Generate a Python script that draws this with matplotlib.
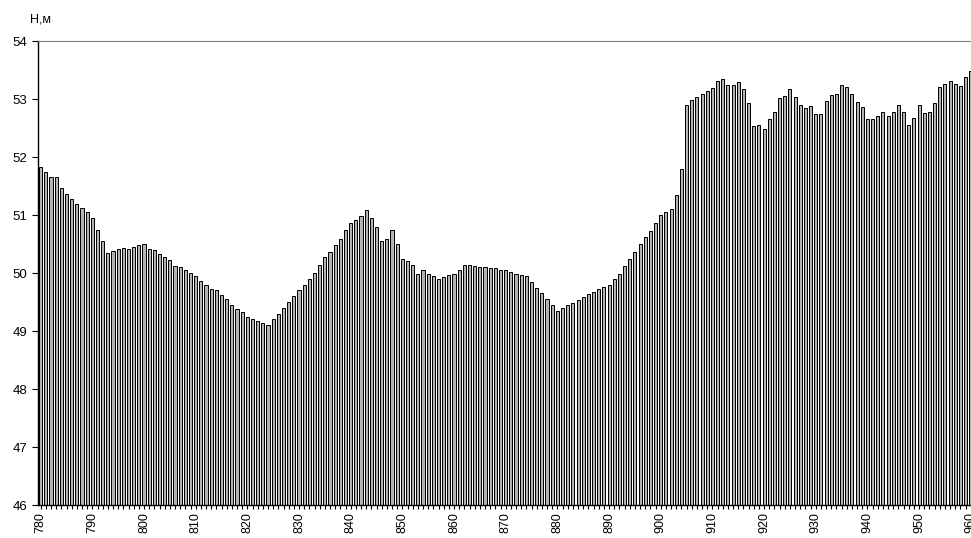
import numpy as np
import matplotlib
matplotlib.use("Agg")
import matplotlib.pyplot as plt

plt.rcParams['font.family'] = ['Liberation Sans', 'DejaVu Sans']

# Picket positions (m) and levels H (m)
km = np.arange(780, 961)
h = [
    51.83, 51.75, 51.66, 51.66, 51.46, 51.36, 51.28, 51.19, 51.12, 51.05,   # 780
    50.95, 50.75, 50.55, 50.35, 50.38, 50.41, 50.43, 50.41, 50.44, 50.48,   # 790
    50.50, 50.41, 50.40, 50.32, 50.28, 50.22, 50.12, 50.10, 50.05, 50.00,   # 800
    49.95, 49.87, 49.80, 49.72, 49.70, 49.62, 49.55, 49.45, 49.38, 49.32,   # 810
    49.25, 49.21, 49.17, 49.14, 49.10, 49.20, 49.30, 49.40, 49.50, 49.60,   # 820
    49.70, 49.80, 49.90, 50.00, 50.13, 50.28, 50.37, 50.49, 50.59, 50.74,   # 830
    50.86, 50.91, 50.99, 51.09, 50.95, 50.79, 50.55, 50.59, 50.75, 50.50,   # 840
    50.25, 50.20, 50.13, 49.99, 50.05, 49.99, 49.95, 49.90, 49.93, 49.96,   # 850
    49.99, 50.06, 50.14, 50.13, 50.12, 50.11, 50.10, 50.09, 50.08, 50.06,   # 860
    50.05, 50.02, 49.99, 49.97, 49.94, 49.84, 49.75, 49.65, 49.55, 49.45,   # 870
    49.34, 49.40, 49.44, 49.49, 49.53, 49.58, 49.63, 49.68, 49.72, 49.76,   # 880
    49.80, 49.90, 49.99, 50.12, 50.25, 50.37, 50.50, 50.62, 50.72, 50.87,   # 890
    51.00, 51.05, 51.10, 51.34, 51.80, 52.89, 52.99, 53.03, 53.09, 53.14,   # 900
    53.19, 53.31, 53.34, 53.24, 53.25, 53.29, 53.17, 52.93, 52.53, 52.55,   # 910
    52.49, 52.65, 52.78, 53.02, 53.05, 53.17, 53.04, 52.89, 52.84, 52.88,   # 920
    52.75, 52.75, 52.96, 53.07, 53.09, 53.24, 53.20, 53.09, 52.95, 52.86,   # 930
    52.66, 52.66, 52.70, 52.78, 52.70, 52.77, 52.89, 52.78, 52.55, 52.67,   # 940
    52.89, 52.76, 52.78, 52.93, 53.20, 53.26, 53.31, 53.26, 53.22, 53.38,   # 950
    53.48,                                                                  # 960
]
ymin, ymax = 46, 54

fig = plt.figure(figsize=(9.71, 5.38), dpi=100)
ax = fig.add_axes([38 / 971, 1 - 505 / 538, 1 - 38 / 971, (505 - 41) / 538])

ax.bar(km, np.array(h) - ymin, bottom=ymin, width=0.6,
       facecolor='#b4b4b4', edgecolor='black', linewidth=0.7)

ax.set_xlim(779.48, 960.05)
ax.set_ylim(ymin, ymax)

ax.set_yticks(np.arange(ymin, ymax + 1, 1))
ax.set_xticks(np.arange(780, 961, 10))
ax.set_xticks(km, minor=True)
ax.tick_params(axis='x', which='both', direction='out', length=3, width=0.8,
               labelsize=9, labelrotation=90, pad=2)
ax.tick_params(axis='y', direction='out', length=4, width=0.8, labelsize=9.5)

ax.spines['right'].set_visible(False)
ax.spines['top'].set_color('#808080')
ax.spines['left'].set_linewidth(1)
ax.spines['bottom'].set_linewidth(1)

fig.text(30 / 971, 1 - 20 / 538, 'Н,м', fontsize=9, va='center', ha='left')

fig.savefig('out.png', dpi=100)
